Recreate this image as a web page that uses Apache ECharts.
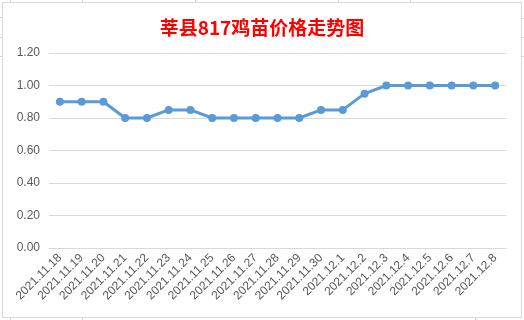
<!DOCTYPE html>
<html><head><meta charset="utf-8">
<script src="https://cdn.jsdelivr.net/npm/echarts@6/dist/echarts.min.js"></script>
<style>
html,body{margin:0;padding:0;background:#fff;width:524px;height:320px;overflow:hidden;}
#bg{position:absolute;left:0;top:0;width:524px;height:320px;}
#c{position:absolute;left:2px;top:2px;width:518px;height:314px;border:1px solid #d9d9d9;background:#fff;}
</style></head>
<body>
<svg id="bg" width="524" height="320">
<g stroke="#d4d4d4" stroke-width="1">
<line x1="10.5" y1="0" x2="10.5" y2="3"/><line x1="82.5" y1="0" x2="82.5" y2="3"/><line x1="195.5" y1="0" x2="195.5" y2="3"/><line x1="338.5" y1="0" x2="338.5" y2="3"/><line x1="410.5" y1="0" x2="410.5" y2="3"/>
<line x1="0" y1="17.5" x2="3" y2="17.5"/><line x1="0" y1="37.5" x2="3" y2="37.5"/><line x1="0" y1="56.5" x2="3" y2="56.5"/>
<line x1="521" y1="18.5" x2="524" y2="18.5"/><line x1="521" y1="37.5" x2="524" y2="37.5"/><line x1="521" y1="56.5" x2="524" y2="56.5"/>
<line x1="10.5" y1="317" x2="10.5" y2="320"/><line x1="82.5" y1="317" x2="82.5" y2="320"/><line x1="475.5" y1="317" x2="475.5" y2="320"/>
</g></svg>
<div id="c"></div>
<script>
const titleText = '莘县817鸡苗价格走势图';
const categories = ['2021.11.18','2021.11.19','2021.11.20','2021.11.21','2021.11.22','2021.11.23','2021.11.24','2021.11.25','2021.11.26','2021.11.27','2021.11.28','2021.11.29','2021.11.30','2021.12.1','2021.12.2','2021.12.3','2021.12.4','2021.12.5','2021.12.6','2021.12.7','2021.12.8'];
const prices = [0.90,0.90,0.90,0.80,0.80,0.85,0.85,0.80,0.80,0.80,0.80,0.80,0.85,0.85,0.95,1.00,1.00,1.00,1.00,1.00,1.00];
const yMin = 0, yMax = 1.2, yStep = 0.2;

const chart = echarts.init(document.getElementById('c'), null, {renderer:'canvas'});
chart.setOption({
  animation:false,
  backgroundColor:'#fff',
  title:{text:titleText,left:'center',top:10,textStyle:{color:'#ff0000',fontSize:19,fontWeight:'bold',fontFamily:'Noto Sans CJK SC'}},
  grid:{left:46,right:15,top:50,bottom:69,containLabel:false},
  xAxis:{type:'category',data:categories,boundaryGap:true,
    axisLine:{show:true,lineStyle:{color:'#d9d9d9'}},axisTick:{show:false},
    axisLabel:{rotate:45,interval:0,color:'#595959',fontSize:12,fontFamily:'Liberation Sans',margin:8}},
  yAxis:{type:'value',min:yMin,max:yMax,interval:yStep,
    axisLine:{show:false},axisTick:{show:false},
    splitLine:{lineStyle:{color:'#d9d9d9'}},
    axisLabel:{formatter:v=>v.toFixed(2),color:'#595959',fontSize:12,fontFamily:'Liberation Sans',margin:9}},
  series:[{type:'line',data:prices,symbol:'circle',symbolSize:8,
    lineStyle:{color:'#5b9bd5',width:3},itemStyle:{color:'#5b9bd5'}}]
});
</script>
</body></html>
